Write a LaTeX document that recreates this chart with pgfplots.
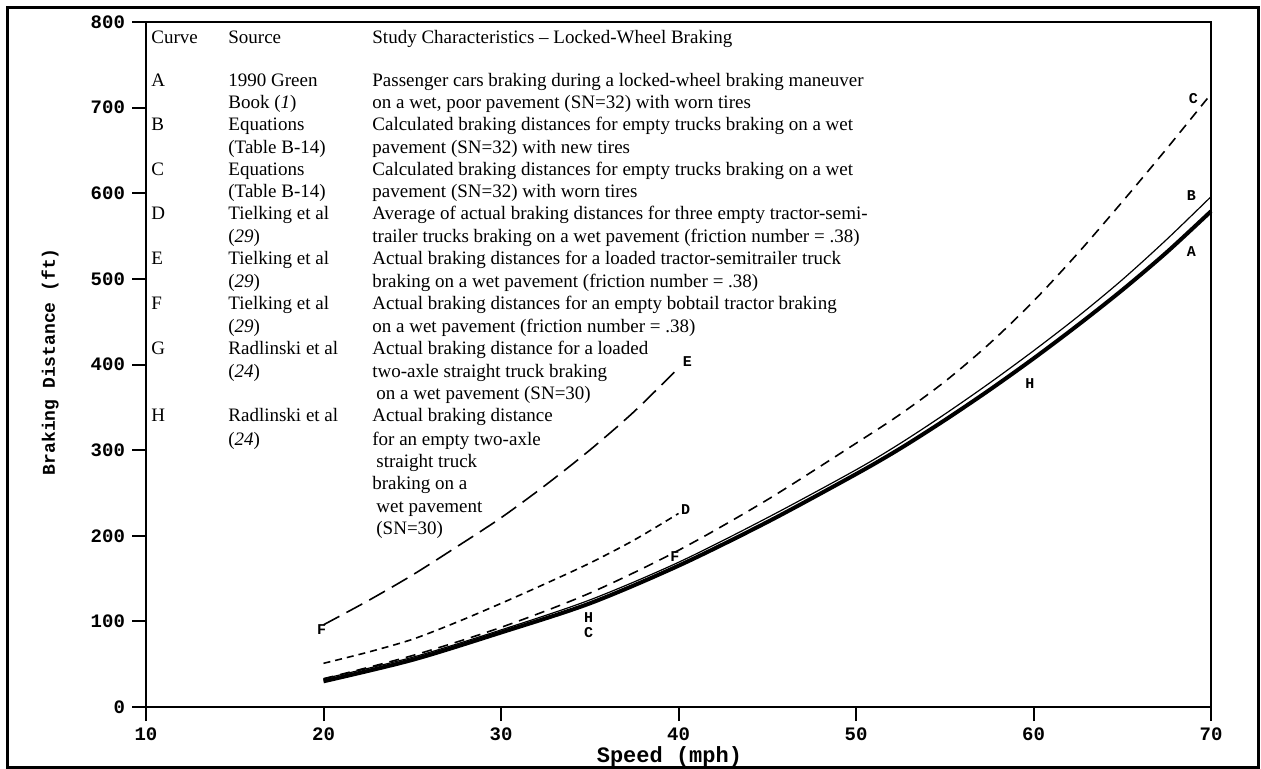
\documentclass[border=0pt]{standalone}
\usepackage{fontspec}
\setmainfont{Liberation Serif}
\newfontfamily\monofont{Liberation Mono}
\usepackage{pgfplots}
\pgfplotsset{compat=1.18}

\pgfplotstableread{
x y
20 30
25 55
30 87
35 121
40 165
45 216
50 272
52.5 302
55 335
57.5 370
60 407
62.5 446
65 487
67.5 531
70 579
}\curveA
\pgfplotstableread{
x y
20 33
25 58
30 90
35 125
40 169
45 221
50 277
52.5 308
55 342
57.5 378
60 416
62.5 456
65 499
67.5 546
70 596
}\curveB
\pgfplotstableread{
x y
20 33
25 60
30 93
35 133
40 183
45 242
50 308
52.5 342
55 380
57.5 424
60 474
62.5 530
65 590
67.5 652
70 716
}\curveC
\pgfplotstableread{
x y
20 51
22.5 64
25 79
27.5 99
30 121
32.5 144
35 168
37.5 195
40 226
}\curveD
\pgfplotstableread{
x y
20 96
22.5 124
25 154
27.5 187
30 221
32.5 259
35 300
37.5 345
40 396
}\curveE

\newcommand{\tx}{\fontsize{9.5}{11}\selectfont}
\newcommand{\lb}{\monofont\bfseries\fontsize{7.5}{8}\selectfont}

\begin{document}
\begin{tikzpicture}
\path[use as bounding box] (0,0) rectangle (630.5pt,-384.5pt);
\begin{axis}[
  at={(73pt,-353.5pt)}, anchor=south west,
  scale only axis, width=532.5pt, height=342.5pt,
  xmin=10, xmax=70, ymin=0, ymax=800,
  xtick={10,20,...,70}, ytick={0,100,...,800},
  tick pos=left, tick align=outside, major tick length=7pt,
  tick style={line width=1pt, black},
  axis line style={line width=1.2pt},
  ticklabel style={font=\monofont\bfseries\fontsize{9.5}{11}\selectfont},
  /pgf/number format/assume math mode=true,
  xlabel={Speed (mph)}, ylabel={Braking Distance (ft)},
  xlabel style={font=\monofont\bfseries\fontsize{11}{13}\selectfont, at={(axis description cs:0.4915,0)}, anchor=center, yshift=-25pt},
  ylabel style={font=\monofont\bfseries\fontsize{9}{11}\selectfont, at={(axis description cs:-0.09,0.504)}, anchor=center},
  clip=false,
]
\addplot[black, line width=0.6pt, no markers, smooth] table[x=x,y=y] {\curveB};
\addplot[black, line width=2pt, no markers, smooth] table[x=x,y=y] {\curveA};
\addplot[black, line width=0.8pt, no markers, smooth, dash pattern=on 5pt off 3.5pt] table[x=x,y=y] {\curveC};
\addplot[black, line width=0.8pt, no markers, smooth, dash pattern=on 3.5pt off 2.5pt] table[x=x,y=y] {\curveD};
\addplot[black, line width=0.8pt, no markers, smooth, dash pattern=on 9pt off 4pt] table[x=x,y=y] {\curveE};

\node[font=\lb] at (axis cs:19.9,90) {F};
\node[font=\lb] at (axis cs:40.5,403) {E};
\node[font=\lb] at (axis cs:40.4,231) {D};
\node[font=\lb] at (axis cs:39.8,176) {F};
\node[font=\lb, inner sep=0pt] at (axis cs:34.93,104) {H};
\node[font=\lb, inner sep=0pt] at (axis cs:34.93,87) {C};
\node[font=\lb] at (axis cs:59.8,378) {H};
\node[font=\lb] at (axis cs:69.0,711) {C};
\node[font=\lb] at (axis cs:68.9,597) {B};
\node[font=\lb] at (axis cs:68.9,532) {A};
\end{axis}

\begin{scope}[x=0.5pt,y=-0.5pt, every node/.style={anchor=base west, inner sep=0pt, font=\tx}]
\draw[line width=1.5pt] (7,8) rectangle (1258,767);
% header
\node at (151,44) {Curve};
\node at (228,44) {Source};
\node at (372,44) {Study Characteristics -- Locked-Wheel Braking};
% A
\node at (151,87) {A};
\node at (228,87) {1990 Green};
\node at (372,87) {Passenger cars braking during a locked-wheel braking maneuver};
\node at (228,109) {Book (\textit{1})};
\node at (372,109) {on a wet, poor pavement (SN=32) with worn tires};
% B
\node at (151,131) {B};
\node at (228,131) {Equations};
\node at (372,131) {Calculated braking distances for empty trucks braking on a wet};
\node at (228,154) {(Table B-14)};
\node at (372,154) {pavement (SN=32) with new tires};
% C
\node at (151,176) {C};
\node at (228,176) {Equations};
\node at (372,176) {Calculated braking distances for empty trucks braking on a wet};
\node at (228,198) {(Table B-14)};
\node at (372,198) {pavement (SN=32) with worn tires};
% D
\node at (151,220) {D};
\node at (228,220) {Tielking et al};
\node at (372,220) {Average of actual braking distances for three empty tractor-semi-};
\node at (228,243) {(\textit{29})};
\node at (372,243) {trailer trucks braking on a wet pavement (friction number = .38)};
% E
\node at (151,265) {E};
\node at (228,265) {Tielking et al};
\node at (372,265) {Actual braking distances for a loaded tractor-semitrailer truck};
\node at (228,288) {(\textit{29})};
\node at (372,288) {braking on a wet pavement (friction number = .38)};
% F
\node at (151,310) {F};
\node at (228,310) {Tielking et al};
\node at (372,310) {Actual braking distances for an empty bobtail tractor braking};
\node at (228,333) {(\textit{29})};
\node at (372,333) {on a wet pavement (friction number = .38)};
% G
\node at (151,355) {G};
\node at (228,355) {Radlinski et al};
\node at (372,355) {Actual braking distance for a loaded};
\node at (228,378) {(\textit{24})};
\node at (372,378) {two-axle straight truck braking};
\node at (376,400) {on a wet pavement (SN=30)};
% H
\node at (151,422) {H};
\node at (228,422) {Radlinski et al};
\node at (372,422) {Actual braking distance};
\node at (228,445) {(\textit{24})};
\node at (372,445) {for an empty two-axle};
\node at (376,467) {straight truck};
\node at (372,489) {braking on a};
\node at (376,512) {wet pavement};
\node at (376,534) {(SN=30)};
\end{scope}
\end{tikzpicture}
\end{document}
